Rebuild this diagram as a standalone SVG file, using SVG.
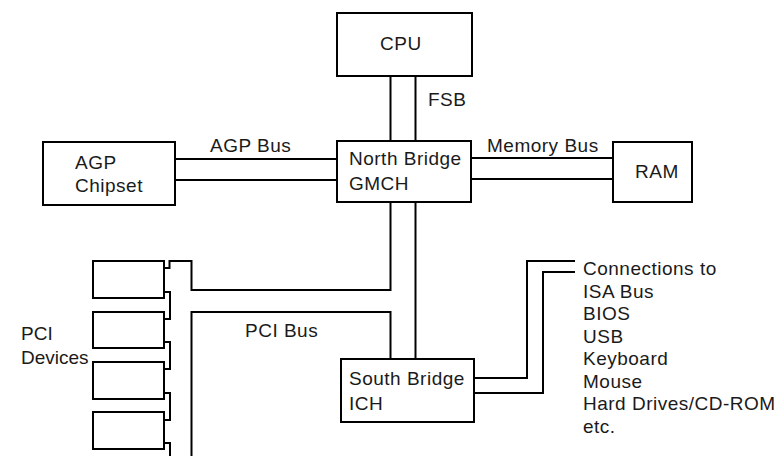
<svg xmlns="http://www.w3.org/2000/svg" width="780" height="456" viewBox="0 0 780 456">
<style>
.box{fill:#fff;stroke:#000;stroke-width:2}
.ln{fill:none;stroke:#000;stroke-width:2}
text{font-family:"Liberation Sans",Arial,sans-serif;font-size:19px;fill:#1a1a1a;letter-spacing:0.5px}
.tight{letter-spacing:0}
</style>
<rect width="780" height="456" fill="#fff"/>
<g id="connectors">
<path class="ln" d="M390.5 76V141M415.5 76V141"/>
<path class="ln" d="M175 159H337M175 180H337"/>
<path class="ln" d="M471 158H613M471 179H613"/>
<path class="ln" d="M390.5 202V290H191.5V261H169.5V268H164"/>
<path class="ln" d="M415.5 202V359"/>
<path class="ln" d="M390.5 359V312H191.5V456"/>
<path class="ln" d="M164 292H170V319H164M164 342H170V369H164M164 393H170V420H164M164 443H170V456"/>
<path class="ln" d="M474 378H527V261H575M474 393H543V272H575"/>
</g>
<g id="cpu"><rect class="box" x="337" y="13" width="135" height="63"/><text x="380" y="50">CPU</text></g>
<g id="fsb-label"><text x="428" y="106">FSB</text></g>
<g id="northbridge"><rect class="box" x="337" y="141" width="134" height="61"/><text x="349" y="165">North Bridge</text><text x="349" y="190">GMCH</text></g>
<g id="agp"><rect class="box" x="43" y="142" width="132" height="63"/><text x="75" y="169">AGP</text><text x="75" y="192">Chipset</text></g>
<g id="agp-label"><text x="210" y="152">AGP Bus</text></g>
<g id="ram"><rect class="box" x="613" y="142" width="79" height="60"/><text x="635" y="178">RAM</text></g>
<g id="mem-label"><text x="487" y="152">Memory Bus</text></g>
<g id="southbridge"><rect class="box" x="341" y="359" width="133" height="63"/><text x="349" y="385">South Bridge</text><text x="349" y="410">ICH</text></g>
<g id="pci-label"><text x="245" y="337">PCI Bus</text></g>
<g id="pci-devices">
<rect class="box" x="93" y="261" width="71" height="37"/>
<rect class="box" x="93" y="312" width="71" height="36"/>
<rect class="box" x="93" y="362" width="71" height="37"/>
<rect class="box" x="93" y="412" width="71" height="37"/>
<text class="tight" x="21" y="340">PCI</text><text class="tight" x="21" y="364">Devices</text>
</g>
<g id="connections">
<text x="583" y="275">Connections to</text>
<text x="583" y="297.5">ISA Bus</text>
<text x="583" y="320">BIOS</text>
<text x="583" y="342.5">USB</text>
<text x="583" y="365">Keyboard</text>
<text x="583" y="387.5">Mouse</text>
<text x="583" y="410">Hard Drives/CD-ROM</text>
<text x="583" y="432.5">etc.</text>
</g>
</svg>
